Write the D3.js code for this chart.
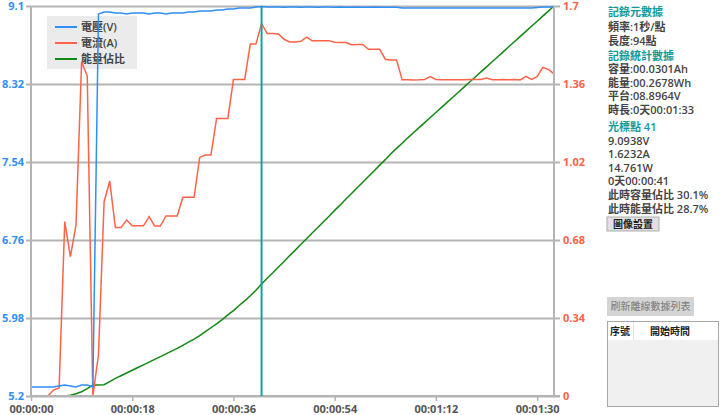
<!DOCTYPE html>
<html><head><meta charset="utf-8">
<script src="https://cdn.jsdelivr.net/npm/d3@7"></script>
<style>
html,body{margin:0;padding:0;background:#fff;}
svg{display:block;font-family:'Open Sans','Noto Sans CJK TC',sans-serif;}
</style></head>
<body><svg id="c" width="720" height="415"></svg>
<script>
// ---- data ----
const seconds = d3.range(0, 94);
const voltage = [5.29,5.29,5.29,5.29,5.29,5.30,5.31,5.30,5.29,5.31,5.31,5.29,9.02,9.04,9.04,9.03,9.03,9.02,9.03,9.03,
 9.03,9.02,9.03,9.03,9.02,9.03,9.03,9.03,9.04,9.04,9.05,9.05,9.05,9.06,9.06,9.07,9.07,9.08,9.08,9.08,
 9.09,9.094,9.09,9.09,9.09,9.088,9.09,9.09,9.088,9.09,9.09,9.088,9.09,9.09,9.088,9.09,9.088,9.088,9.09,9.088,
 9.088,9.09,9.088,9.088,9.088,9.087,9.08,9.08,9.08,9.08,9.08,9.08,9.08,9.08,9.08,9.08,9.08,9.08,9.08,9.08,
 9.08,9.08,9.08,9.08,9.08,9.08,9.08,9.08,9.08,9.08,9.085,9.09,9.09,9.09];
const current = [0,0,0,0,0.026,0.035,0.76,0.607,0.745,1.457,1.395,0,0.18,0.847,0.937,0.734,0.734,0.767,0.742,0.742,
 0.742,0.782,0.741,0.741,0.785,0.785,0.785,0.866,0.866,0.866,1.04,1.05,1.05,1.21,1.21,1.21,1.38,1.38,1.38,1.534,
 1.534,1.623,1.58,1.58,1.578,1.555,1.543,1.543,1.546,1.564,1.548,1.548,1.549,1.549,1.542,1.541,1.541,1.531,1.532,1.532,
 1.511,1.511,1.511,1.468,1.465,1.465,1.378,1.378,1.377,1.378,1.38,1.392,1.38,1.378,1.378,1.379,1.378,1.379,1.38,1.38,
 1.38,1.386,1.379,1.379,1.38,1.379,1.38,1.378,1.393,1.38,1.392,1.432,1.424,1.404];
const energyPct = [0,0,0,0,0,0,0,0.2,0.6,1.1,1.9,2.8,2.8,2.9,3.7,4.5,5.2,5.9,6.6,7.3,
 8.0,8.7,9.4,10.1,10.8,11.5,12.2,13.0,13.8,14.6,15.5,16.5,17.5,18.5,19.6,20.8,21.9,23.2,24.4,25.7,
 27.1,28.7,30.2,31.6,33.1,34.5,36.0,37.4,38.9,40.3,41.8,43.2,44.7,46.1,47.6,49.0,50.5,51.9,53.4,54.8,
 56.3,57.7,59.2,60.6,62.1,63.5,64.8,66.2,67.5,68.8,70.1,71.4,72.7,74.0,75.3,76.6,77.9,79.2,80.5,81.8,
 83.1,84.4,85.7,87.0,88.3,89.6,90.9,92.2,93.5,94.8,96.1,97.4,98.7,100];
const vTicks = [5.2,5.98,6.76,7.54,8.32,9.1];
const iTicks = [0,0.34,0.68,1.02,1.36,1.7];
const xTicks = [0,18,36,54,72,90];
const cursorSec = 41;
const legendNames = ["電壓(V)","電流(A)","能量佔比"];
const panelLines = [
 {t:"記錄元數據",k:"h"},{t:"頻率:1秒/點"},{t:"長度:94點"},
 {t:"記錄統計數據",k:"h"},{t:"容量:00.0301Ah"},{t:"能量:00.2678Wh"},{t:"平台:08.8964V"},{t:"時長:0天00:01:33"},
 {t:"光標點 41",k:"h"},{t:"9.0938V"},{t:"1.6232A"},{t:"14.761W"},{t:"0天00:00:41"},{t:"此時容量佔比 30.1%"},{t:"此時能量佔比 28.7%"}
];
const panelY = [12,27,41,56,69.5,83,96.5,110,127,141,154.5,168,181.5,195,209];
const buttonLabel = "圖像設置";
const refreshLabel = "刷新離線數據列表";
const tableHeads = ["序號","開始時間"];

// ---- layout ----
const L=31, R=554, T=6, B=396;
const colV="#2f8ff5", colI="#ff6347", colE="#118811", teal="#17a0a0", grid="#b4b4b4";
const svg=d3.select("#c");
const x=d3.scaleLinear().domain([0,93]).range([L,R]);
const yV=d3.scaleLinear().domain([5.2,9.1]).range([B,T]);
const yI=d3.scaleLinear().domain([0,1.7]).range([B,T]);
const yE=d3.scaleLinear().domain([0,100]).range([B,T]);
const fmtT = s => { const m=Math.floor(s/60), ss=s%60; return "00:"+String(m).padStart(2,"0")+":"+String(ss).padStart(2,"0"); };

// legend (behind series)
const lg=svg.append("g");
lg.append("rect").attr("x",47).attr("y",16).attr("width",90).attr("height",53).attr("fill","#ebebeb");
legendNames.forEach((n,i)=>{
  const yy=27+i*16;
  lg.append("line").attr("x1",55).attr("x2",77).attr("y1",yy).attr("y2",yy).attr("stroke",[colV,colI,colE][i]).attr("stroke-width",2);
  lg.append("text").attr("x",81).attr("y",yy).attr("dy","0.35em").attr("font-size",11).attr("font-weight",600).attr("fill","#444").text(n);
});

// left axis + gridlines
const ga=svg.append("g").attr("transform",`translate(${L},0)`)
  .call(d3.axisLeft(yV).tickValues(vTicks).tickFormat(d=>String(d)).tickSizeInner(-(R-L)).tickSizeOuter(0).tickPadding(7));
ga.select(".domain").remove();
ga.selectAll(".tick line").attr("x1",-5).attr("x2",R-L+6).attr("stroke",grid).attr("stroke-width",2);
ga.selectAll(".tick text").attr("fill",colV).attr("font-size",11).attr("font-weight",700).attr("font-family","'Open Sans',sans-serif");

// right axis labels
const gr=svg.append("g").attr("transform",`translate(${R},0)`)
  .call(d3.axisRight(yI).tickValues(iTicks).tickFormat(d=>String(d)).tickSize(0).tickPadding(9));
gr.select(".domain").remove();
gr.selectAll(".tick text").attr("fill",colI).attr("font-size",11).attr("font-weight",700).attr("font-family","'Open Sans',sans-serif");

// series
const line=(ys,arr)=>d3.line().x((d,i)=>x(seconds[i])).y((d)=>ys(d))(arr);
svg.append("path").attr("d",line(yE,energyPct)).attr("fill","none").attr("stroke",colE).attr("stroke-width",1.5);
svg.append("path").attr("d",line(yI,current)).attr("fill","none").attr("stroke",colI).attr("stroke-width",1.5);
svg.append("path").attr("d",line(yV,voltage)).attr("fill","none").attr("stroke",colV).attr("stroke-width",1.5);

// bottom axis
const gb=svg.append("g").attr("transform",`translate(0,${B})`)
  .call(d3.axisBottom(x).tickValues(xTicks).tickFormat(fmtT).tickSizeInner(5).tickSizeOuter(0).tickPadding(4));
gb.select(".domain").remove();
gb.selectAll(".tick line").attr("stroke",grid).attr("stroke-width",1.5);
gb.selectAll(".tick text").attr("fill","#555").attr("font-size",11).attr("font-weight",700).attr("font-family","'Open Sans',sans-serif");

// axis frame lines
svg.append("line").attr("x1",L).attr("x2",L).attr("y1",T).attr("y2",B+1).attr("stroke",grid).attr("stroke-width",2);
svg.append("line").attr("x1",R).attr("x2",R).attr("y1",T).attr("y2",B+1).attr("stroke",grid).attr("stroke-width",2);
svg.append("line").attr("x1",L-1).attr("x2",R+6).attr("y1",B).attr("y2",B).attr("stroke",grid).attr("stroke-width",2);

// cursor
svg.append("line").attr("x1",x(cursorSec)).attr("x2",x(cursorSec)).attr("y1",T).attr("y2",B).attr("stroke",teal).attr("stroke-width",2);

// right panel
const pg=svg.append("g");
panelLines.forEach((p,i)=>{
  pg.append("text").attr("x",608).attr("y",panelY[i]).attr("dy","0.35em").attr("font-size",11)
    .attr("font-weight",600).attr("fill",p.k==="h"?"#109a9a":"#444").text(p.t);
});
pg.append("rect").attr("x",607).attr("y",217).attr("width",52).attr("height",14).attr("fill","#e1e1e1").attr("stroke","#adadad");
pg.append("text").attr("x",633).attr("y",224).attr("dy","0.35em").attr("text-anchor","middle").attr("font-size",10).attr("font-weight",700).attr("fill","#222").text(buttonLabel);
pg.append("rect").attr("x",607).attr("y",297).attr("width",87).attr("height",19).attr("fill","#d4d4d4");
pg.append("text").attr("x",650.5).attr("y",306.5).attr("dy","0.35em").attr("text-anchor","middle").attr("font-size",10).attr("fill","#7a7a7a").text(refreshLabel);
pg.append("rect").attr("x",607.5).attr("y",321.5).attr("width",111).attr("height",85).attr("fill","#f0f0f0").attr("stroke","#a8a8a8");
pg.append("rect").attr("x",608).attr("y",322).attr("width",110).attr("height",18).attr("fill","#fff");
pg.append("line").attr("x1",633.5).attr("x2",633.5).attr("y1",322).attr("y2",340).attr("stroke","#e4e4e4");
pg.append("text").attr("x",620).attr("y",331).attr("dy","0.35em").attr("text-anchor","middle").attr("font-size",10).attr("font-weight",700).attr("fill","#222").text(tableHeads[0]);
pg.append("text").attr("x",670).attr("y",331).attr("dy","0.35em").attr("text-anchor","middle").attr("font-size",10).attr("font-weight",700).attr("fill","#222").text(tableHeads[1]);
</script></body></html>
